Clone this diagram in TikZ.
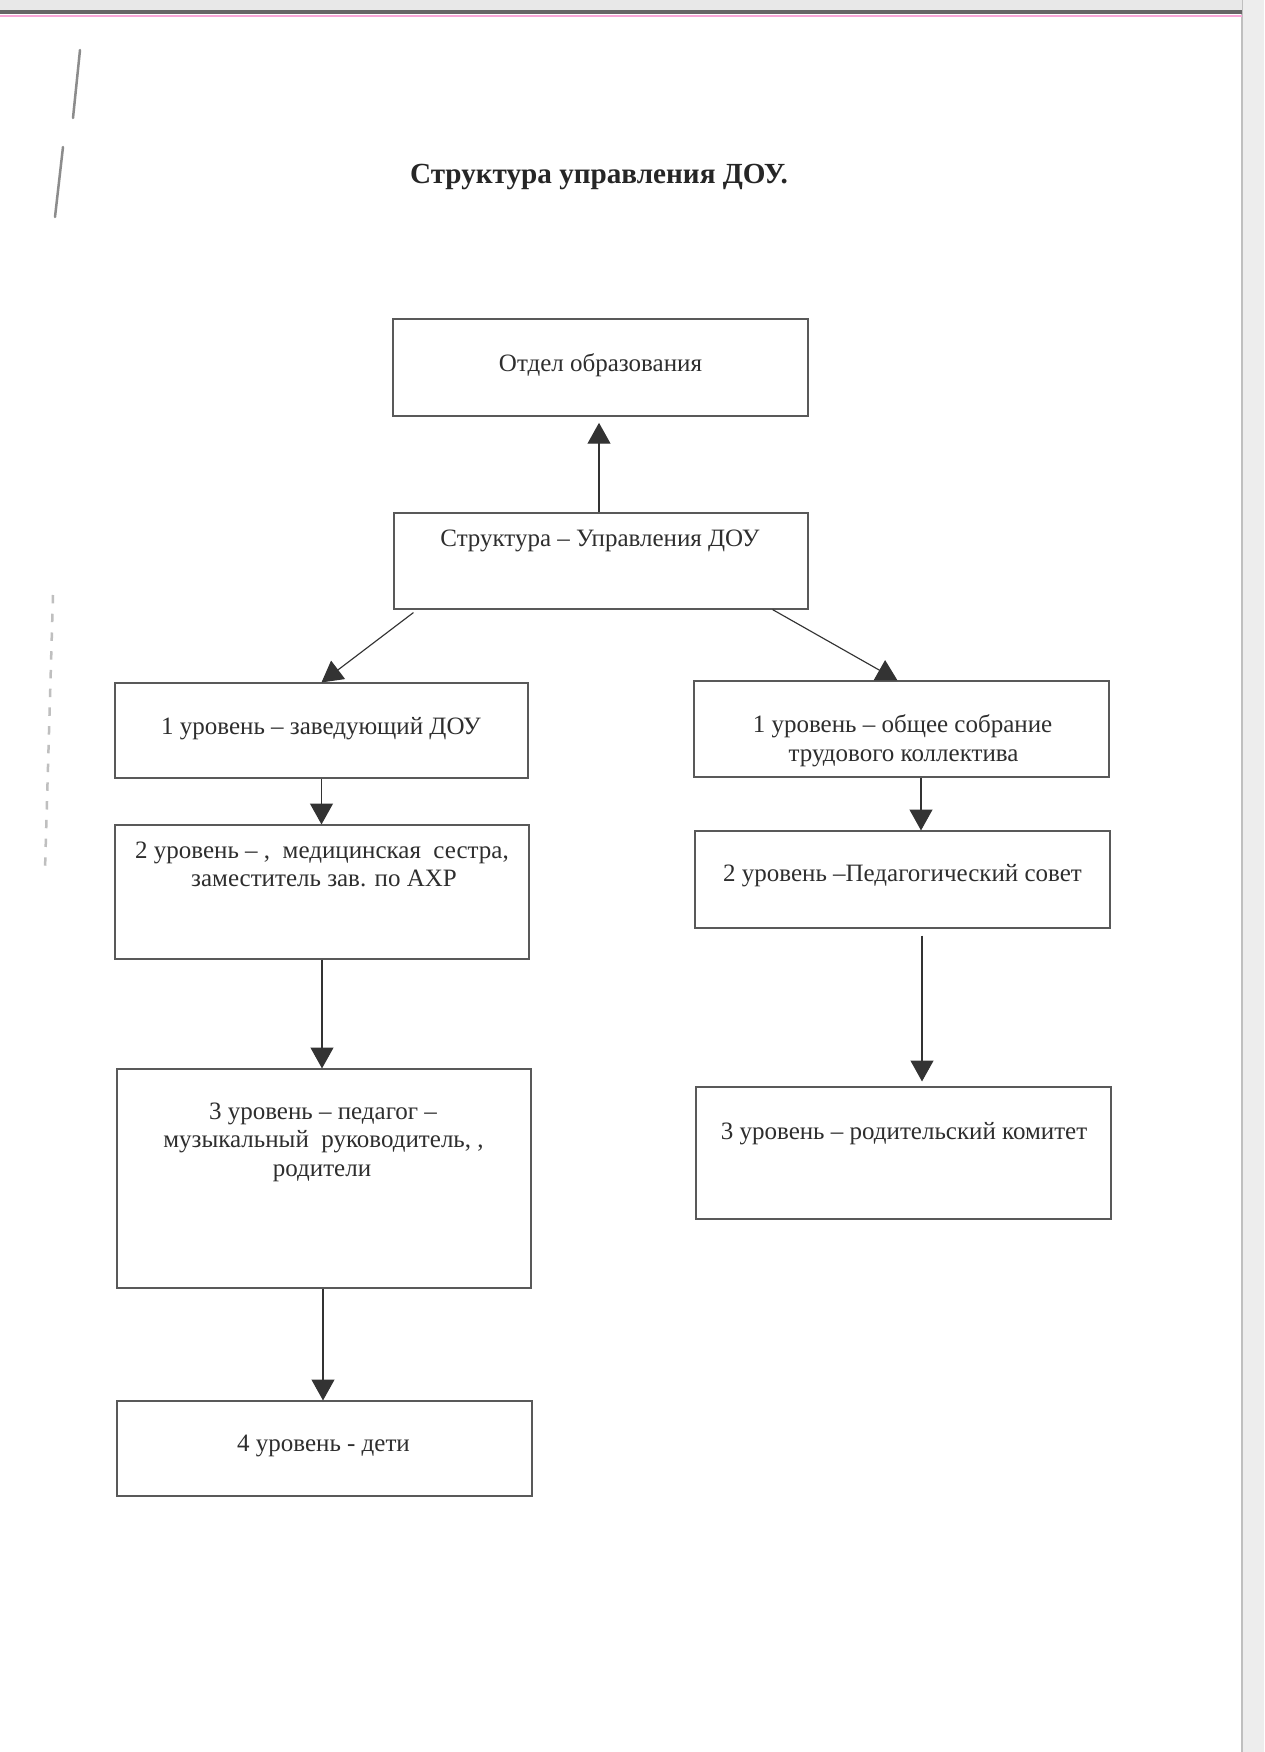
\documentclass[tikz,border=0pt]{standalone}
\usepackage{fontspec}
\setmainfont{Liberation Serif}
\usetikzlibrary{arrows.meta,calc}
\newcommand{\pxu}{0.48pt}
\begin{document}
\begin{tikzpicture}[x=0.48pt,y=-0.48pt,
  box/.style={draw=black!65, line width=0.55pt, rectangle, inner sep=0pt},
  txt/.style={inner sep=0pt, anchor=base, text=black!82, font=\fontsize{12}{13.5}\selectfont},
  ttl/.style={inner sep=0pt, anchor=base, text=black!85, font=\fontsize{14}{16}\selectfont\bfseries},
  arr/.style={draw=black!80, line width=0.55pt, -{Triangle[width=11pt,length=10pt]}},
  scan/.style={draw=black!45, line width=1.2pt, line cap=round}]
\useasboundingbox (0,0) rectangle (1264,1752);
\fill[white] (0,0) rectangle (1264,1752);
% scan artefacts
\fill[black!7] (1242,0) rectangle (1264,1752);
\draw[black!25, line width=0.5pt] (1242,0) -- (1242,1752);
\fill[black!9] (0,0) rectangle (1242,10);
\draw[black!60, line width=1.6pt] (0,12) -- (1242,12);
\draw[magenta!35, line width=0.6pt] (0,16) -- (1242,16);
\draw[scan] (80,50) -- (73,118);
\draw[scan] (63,147) -- (55,217);
\draw[black!25, line width=1.2pt, dash pattern=on 4pt off 5pt] (53,595) -- (45,870);

% title
\node[ttl] (title) at (599,183) {Структура управления ДОУ.};

% boxes
\node[box, minimum width=415*\pxu, minimum height=97*\pxu] (o) at (600.5,367.5) {};
\node[box, minimum width=414*\pxu, minimum height=96*\pxu] (s) at (601,561) {};
\node[box, minimum width=413*\pxu, minimum height=95*\pxu] (l1) at (321.5,730.5) {};
\node[box, minimum width=414*\pxu, minimum height=134*\pxu] (l2) at (322,892) {};
\node[box, minimum width=414*\pxu, minimum height=219*\pxu] (l3) at (324,1178.5) {};
\node[box, minimum width=415*\pxu, minimum height=95*\pxu] (l4) at (324.5,1448.5) {};
\node[box, minimum width=415*\pxu, minimum height=96*\pxu] (r1) at (901.5,729) {};
\node[box, minimum width=415*\pxu, minimum height=97*\pxu] (r2) at (902.5,879.5) {};
\node[box, minimum width=415*\pxu, minimum height=132*\pxu] (r3) at (903.5,1153) {};

% texts
\node[txt] (to) at (600.5,371) {Отдел образования};
\node[txt] (ts) at (600,546) {Структура – Управления ДОУ};
\node[txt] (tl1) at (321,734) {1 уровень – заведующий ДОУ};
\node[txt] (tl2a) at (322,858) {2 уровень – ,\ \ медицинская\ \ сестра,};
\node[txt] (tl2b) at (324,886) {заместитель зав. по АХР};
\node[txt] (tl3a) at (323,1119) {3 уровень – педагог –};
\node[txt] (tl3b) at (323.5,1147) {музыкальный\ \ руководитель, ,};
\node[txt] (tl3c) at (322,1176) {родители};
\node[txt] (tl4) at (323.5,1451) {4 уровень - дети};
\node[txt] (tr1a) at (902.5,732) {1 уровень – общее собрание};
\node[txt] (tr1b) at (903.5,761) {трудового коллектива};
\node[txt] (tr2) at (902.5,881) {2 уровень –Педагогический совет};
\node[txt] (tr3) at (904,1139) {3 уровень – родительский комитет};

% connectors
\draw[arr, shorten >=3pt] ($(s.north)+(-2,0)$) -- ($(o.south)+(-1.5,0)$);
\draw[arr] ($(s.south west)+(20,3)$) -- (l1.north);
\draw[arr] ($(s.south east)+(-36,0)$) -- ($(r1.north)+(-4,0)$);
\draw[arr] (l1.south) -- (l1.south |- l2.north);
\draw[arr] (l2.south) -- (l2.south |- l3.north);
\draw[arr] ($(l3.south)+(-1,0)$) -- ($(l3.south |- l4.north)+(-1,0)$);
\draw[arr] ($(r1.south)+(19.5,0)$) -- ($(r1.south |- r2.north)+(19.5,0)$);
\draw[arr, shorten >=2.4pt] ($(r2.south)+(19.5,7)$) -- ($(r2.south |- r3.north)+(19.5,0)$);
\end{tikzpicture}
\end{document}
